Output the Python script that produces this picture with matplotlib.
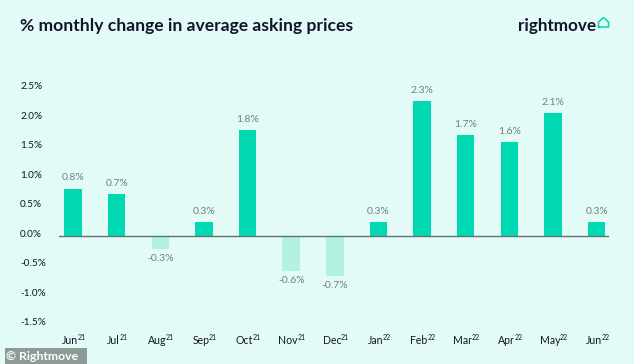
import matplotlib
matplotlib.use("Agg")
import matplotlib.pyplot as plt
from matplotlib.lines import Line2D
from matplotlib.patches import Rectangle
from matplotlib.transforms import ScaledTranslation

months = ["Jun", "Jul", "Aug", "Sep", "Oct", "Nov", "Dec", "Jan", "Feb", "Mar", "Apr", "May", "Jun"]
years = ["21", "21", "21", "21", "21", "21", "21", "22", "22", "22", "22", "22", "22"]
values = [0.80, 0.70, -0.23, 0.23, 1.79, -0.60, -0.69, 0.23, 2.28, 1.71, 1.59, 2.08, 0.23]
labels = ["0.8%", "0.7%", "-0.3%", "0.3%", "1.8%", "-0.6%", "-0.7%", "0.3%", "2.3%", "1.7%", "1.6%", "2.1%", "0.3%"]
yticks = [2.5, 2.0, 1.5, 1.0, 0.5, 0.0, -0.5, -1.0, -1.5]

BG = "#e3fbf6"
UP = "#00d9b1"
DOWN = "#b3f1e3"
DARK = "#14142b"
GREY = "#737f80"
W, H = 634, 364

plt.rcParams["font.family"] = ["Lato", "DejaVu Sans"]

fig = plt.figure(figsize=(W / 100, H / 100), dpi=100, facecolor=BG)

# axes box: 59-609 px across, 60-332 px down
ax = fig.add_axes([59 / W, 1 - 332 / H, (609 - 59) / W, (332 - 60) / H], facecolor="none")
ax.set_xlim(-14 / 43.64, 536 / 43.64)
ax.set_ylim((235.7 - 332) / 58.9, (235.7 - 60) / 58.9)

colors = [UP if v >= 0 else DOWN for v in values]
ax.bar(range(len(values)), values, width=0.4, color=colors, zorder=2)
ax.axhline(0, color="#5f7372", lw=1, zorder=3)

for i, (v, lab) in enumerate(zip(values, labels)):
    off = 7.8 if v >= 0 else -6.8
    ax.annotate(lab, (i, v), xytext=(0, off), textcoords="offset points", ha="center", va="center", fontsize=7.5, color=GREY)

for s in ax.spines.values():
    s.set_visible(False)

ax.set_xticks(range(len(months)))
ax.set_xticklabels(months, fontsize=7.6, color=DARK)
ax.tick_params(axis="x", length=0, pad=2.5)
ax.set_yticks(yticks)
ax.set_yticklabels([f"{t:.1f}%" for t in yticks], fontsize=7.2, color=DARK, ha="left")
ax.tick_params(axis="y", length=0, pad=(59 - 20) * 0.72)
shift = ScaledTranslation(0, 2.5 / 100, fig.dpi_scale_trans)
for t in ax.get_yticklabels():
    t.set_transform(t.get_transform() + shift)

# year superscripts sit after the month, the pair centred under the bar
renderer = fig.canvas.get_renderer()
back = ScaledTranslation(-3 / 100, 0, fig.dpi_scale_trans)
for i, t in enumerate(ax.get_xticklabels()):
    w = t.get_window_extent(renderer).width
    t.set_transform(t.get_transform() + back)
    ax.annotate(years[i], (i, 0), xycoords=ax.get_xaxis_transform(), xytext=((w / 2 - 3.5) * 0.72, -1.2),
                textcoords="offset points", ha="left", va="top", fontsize=5, color=DARK)

fig.text(20 / W, 1 - 26 / H, "% monthly change in average asking prices", fontsize=12.6, fontweight="bold", color=DARK, va="center")
fig.text(518 / W, 1 - 26 / H, "rightmove", fontsize=12.3, fontweight="bold", color=DARK, va="center")

# little house on the logo
hx = [598.5, 598.5, 603.5, 608.5, 608.5, 598.5]
hy = [27, 22, 17.5, 22, 27, 27]
fig.add_artist(Line2D([x / W for x in hx], [1 - y / H for y in hy], color=UP, lw=1.1))

# watermark
fig.add_artist(Rectangle((5 / W, 0), 82 / W, 16 / H, transform=fig.transFigure, color="#8f9a98", lw=0))
fig.text(6 / W, 8 / H, "© Rightmove", fontsize=8.8, fontweight="bold", color="white", va="center")

fig.savefig("out.png", dpi=100, facecolor=BG)
